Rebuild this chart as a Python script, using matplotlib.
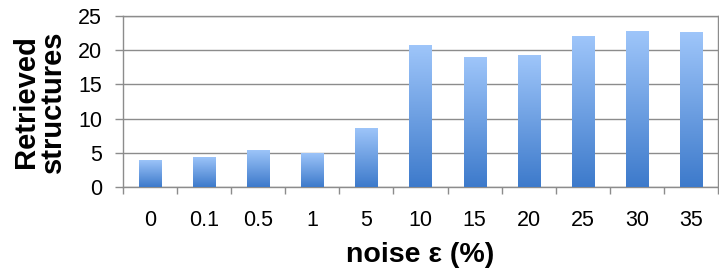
import matplotlib
matplotlib.use("Agg")
import matplotlib.pyplot as plt
import numpy as np
from matplotlib.colors import LinearSegmentedColormap

categories = ["0", "0.1", "0.5", "1", "5", "10", "15", "20", "25", "30", "35"]
values = [4.0, 4.4, 5.5, 5.0, 8.7, 20.7, 19.0, 19.3, 22.0, 22.8, 22.6]
yticks = [0, 5, 10, 15, 20, 25]

plt.rcParams['font.family'] = ['Liberation Sans', 'DejaVu Sans']

fig = plt.figure(figsize=(7.19, 2.68), dpi=100)
ax = fig.add_axes([123/719, 1 - 187.3/268, (718 - 123)/719, (187.3 - 15.7)/268])

x = np.arange(len(categories))
bars = ax.bar(x, values, width=0.41, color='none', edgecolor='none', zorder=3)

cmap = LinearSegmentedColormap.from_list('g', ['#3D7ACB', '#9FC6FA'])
grad = np.linspace(0, 1, 256).reshape(-1, 1)
for b in bars:
    x0, y0 = b.get_x(), b.get_y()
    w, h = b.get_width(), b.get_height()
    im = ax.imshow(grad, cmap=cmap, aspect='auto', origin='lower',
                   extent=[x0, x0 + w, y0, y0 + h], zorder=3)
    im.set_clip_path(b)

ax.set_xlim(-0.5, len(categories) - 0.5)
ax.set_ylim(0, 25)
ax.set_yticks(yticks)
ax.set_yticklabels([str(t) for t in yticks], fontsize=15.5)
ax.yaxis.grid(True, color='#8c8c8c', linewidth=1.0, zorder=0)
ax.set_axisbelow(True)

ax.set_xticks(x)
ax.set_xticklabels(categories, fontsize=15.5)
ax.tick_params(axis='x', length=0, pad=16)
ax.set_xticks(np.arange(-0.5, len(categories) + 0.5, 1), minor=True)
ax.tick_params(axis='x', which='minor', length=5, color='#8c8c8c', width=1)
ax.tick_params(axis='y', length=6, color='#8c8c8c', width=1, pad=9)

for s in ax.spines.values():
    s.set_color('#8c8c8c')
    s.set_linewidth(1.0)

ax.set_xlabel("noise ε (%)", fontsize=20.5, fontweight='bold', labelpad=8)
ax.set_ylabel("Retrieved\nstructures", fontsize=21, fontweight='bold',
              linespacing=0.95, labelpad=8)

fig.savefig("out.png", dpi=100)
